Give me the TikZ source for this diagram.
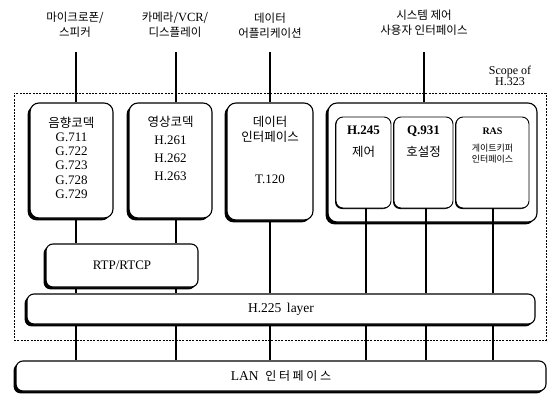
\documentclass[tikz,border=0pt]{standalone}
\usepackage{fontspec}
\setmainfont{Liberation Serif}
\newfontfamily\kr{Noto Sans CJK KR}
\usetikzlibrary{shadows}
\begin{document}
\begin{tikzpicture}[x=1pt,y=-1pt,
  box/.style={draw, line width=1.1pt, rounded corners=9pt, fill=white, inner sep=0pt,
    general shadow={fill=black, shadow xshift=-2.4pt, shadow yshift=-2.4pt}},
  inbox/.style={draw, line width=0.9pt, rounded corners=7pt, fill=white, inner sep=0pt,
    general shadow={fill=black, shadow xshift=-1pt, shadow yshift=-1pt}},
  conn/.style={line width=1.1pt},
  scope/.style={line width=0.7pt, dash pattern=on 2pt off 1.3pt},
  toplbl/.style={align=center, inner sep=0pt, font=\kr\fontsize{11.5}{15}\selectfont},
  btxt/.style={align=center, inner sep=0pt, anchor=north, font=\fontsize{13}{14.3}\selectfont},
]
\useasboundingbox (0,0) rectangle (547,394);
% scope frame
\node[scope, draw, minimum width=532, minimum height=247, inner sep=0pt] (frame) at (280,216.5) {};
\node[align=center, inner sep=0pt, font=\fontsize{12}{11.5}\selectfont] (scopelbl) at (510,76) {Scope of\\H.323};

% top labels
\node[toplbl] (lblA) at (75,25) {마이크로폰/\\스피커};
\node[toplbl] (lblB) at (175,25) {카메라/{\fontspec{Liberation Serif}\fontsize{12.5}{15}\selectfont VCR}/\\디스플레이};
\node[toplbl] (lblC) at (270,26) {데이터\\어플리케이션};
\node[toplbl] (lblD) at (424,23) {시스템 제어\\사용자 인터페이스};

% boxes
\node[box, minimum width=83, minimum height=115] (audio) at (71.5,160.5) {};
\node[box, minimum width=83, minimum height=115] (video) at (170.5,160.5) {};
\node[box, minimum width=86, minimum height=117] (data) at (270,161.5) {};
\node[box, minimum width=209, minimum height=119] (grp) at (432.5,162.5) {};
\node[inbox, minimum width=55, minimum height=91] (h245) at (363.5,162.5) {};
\node[inbox, minimum width=59, minimum height=91] (q931) at (423.5,162.5) {};
\node[inbox, minimum width=73, minimum height=91] (ras) at (492.5,162.5) {};
\node[box, rounded corners=7pt, minimum width=152, minimum height=43, font=\fontsize{13}{14}\selectfont] (rtp) at (122,265.5) {RTP/RTCP};
\node[box, rounded corners=7pt, minimum width=508, minimum height=30, font=\fontsize{13.5}{14}\selectfont] (h225) at (281,309) {H.225\, layer};
\node[box, rounded corners=7pt, minimum width=530, minimum height=30, font=\fontsize{13.5}{14}\selectfont] (lan) at (281,376) {LAN\ \ {\kr\fontsize{12}{14}\selectfont 인 터 페 이 스}};

% box texts
\node[btxt] (taudio) at ([yshift=-14pt]audio.north) {{\kr\fontsize{12.5}{14}\selectfont 음향코덱}\\G.711\\G.722\\G.723\\G.728\\G.729};
\node[btxt, font=\fontsize{13}{18}\selectfont] (tvideo) at ([yshift=-14pt]video.north) {{\kr\fontsize{12.5}{14}\selectfont 영상코덱}\\H.261\\H.262\\H.263};
\node[btxt, font=\fontsize{13}{15}\selectfont] (tdata) at ([yshift=-14pt]data.north) {{\kr\fontsize{12.5}{14}\selectfont 데이터}\\{\kr\fontsize{12.5}{14}\selectfont 인터페이스}\\[27pt]T.120};
\node[btxt, font=\bfseries\fontsize{13}{22}\selectfont] (th245) at ([yshift=-9pt]h245.north) {H.245\\{\kr\mdseries\fontsize{12.5}{14}\selectfont 제어}};
\node[btxt, font=\bfseries\fontsize{13}{22}\selectfont] (tq931) at ([yshift=-9pt]q931.north) {Q.931\\{\kr\mdseries\fontsize{12.5}{14}\selectfont 호설정}};
\node[btxt, font=\bfseries\fontsize{10}{11}\selectfont] (tras) at ([yshift=-11pt]ras.north) {RAS\\[6pt]{\kr\mdseries\fontsize{9}{11}\selectfont 게이트키퍼}\\{\kr\mdseries\fontsize{9}{11}\selectfont 인터페이스}};

% column coordinates
\coordinate (cA) at (76,52);
\coordinate (cB) at (176,52);
\coordinate (cC) at (270,52);
\coordinate (cD) at (424,52);
\coordinate (cE) at (366,0);
\coordinate (cF) at (426,0);
\coordinate (cG) at (493,0);

% connectors
\draw[conn] (cA) -- (cA |- audio.north);
\draw[conn] (cB) -- (cB |- video.north);
\draw[conn] (cC) -- (cC |- data.north);
\draw[conn] (cD) -- (cD |- grp.north);
\draw[conn] (cA |- audio.south) -- (cA |- rtp.north);
\draw[conn] (cB |- video.south) -- (cB |- rtp.north);
\draw[conn] (cA |- rtp.south) -- (cA |- h225.north);
\draw[conn] (cB |- rtp.south) -- (cB |- h225.north);
\draw[conn] (cC |- data.south) -- (cC |- h225.north);
\draw[conn] (cE |- h245.south) -- (cE |- h225.north);
\draw[conn] (cF |- q931.south) -- (cF |- h225.north);
\draw[conn] (cG |- ras.south) -- (cG |- h225.north);
\foreach \c in {cA,cB,cC,cE,cF,cG}
  \draw[conn] (\c |- h225.south) -- (\c |- lan.north);
\end{tikzpicture}
\end{document}
